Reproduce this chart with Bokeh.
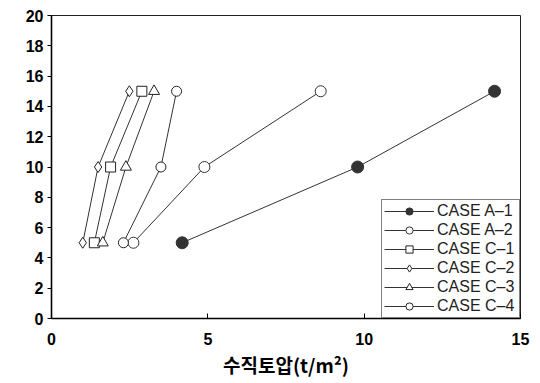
import numpy as np
from bokeh.plotting import figure
from bokeh.models import Range1d, FixedTicker, Legend, LegendItem
from bokeh.embed import file_html
from bokeh.resources import INLINE

# ---- data ----
y_vals = [5, 10, 15]
a1_x = [4.18, 9.79, 14.17]
a2_x = [2.62, 4.89, 8.61]
c1_x = [1.37, 1.89, 2.89]
c2_x = [1.00, 1.49, 2.49]
c3_x = [1.64, 2.38, 3.28]
c4_x = [2.30, 3.50, 4.00]
labels = ["CASE A–1", "CASE A–2", "CASE C–1", "CASE C–2", "CASE C–3", "CASE C–4"]
x_ticks = [0, 5, 10, 15]
y_ticks = [0, 2, 4, 6, 8, 10, 12, 14, 16, 18, 20]

p = figure(width=532, height=380, output_backend="svg", toolbar_location=None,
           x_range=Range1d(0, 15), y_range=Range1d(0, 20),
           min_border_left=51, min_border_right=12, min_border_top=15, min_border_bottom=58)
p.grid.visible = False
p.outline_line_color = "#222222"
p.outline_line_width = 1
p.background_fill_color = "white"
p.border_fill_color = "white"

for ax in (p.xaxis[0], p.yaxis[0]):
    ax.axis_line_width = 1.6
    ax.axis_line_color = "black"
    ax.major_tick_line_color = "black"
    ax.major_tick_line_width = 1
    ax.minor_tick_line_color = None
    ax.major_label_text_font = "Liberation Sans"
    ax.major_label_text_font_style = "bold"
    ax.major_label_text_font_size = "16px"
    ax.major_label_text_color = "black"

p.xaxis.ticker = FixedTicker(ticks=x_ticks)
p.yaxis.ticker = FixedTicker(ticks=y_ticks)
p.xaxis.major_tick_in = 5
p.xaxis.major_tick_out = 0
p.xaxis.major_label_standoff = 14
p.yaxis.major_tick_in = 0
p.yaxis.major_tick_out = 4
p.yaxis.major_label_standoff = 4

p.xaxis.axis_label = "수직토압(t/m²)"
p.xaxis.axis_label_text_font = "Noto Sans CJK KR"
p.xaxis.axis_label_text_font_style = "bold"
p.xaxis.axis_label_text_font_size = "19px"
p.xaxis.axis_label_text_color = "black"
p.xaxis.axis_label_standoff = 3

lc = "#333333"
series = [
    (a1_x, dict(marker="circle", size=12, fill_color="#333333", line_color="#333333")),
    (a2_x, dict(marker="circle", size=11, fill_color="white", line_color="#333333")),
    (c1_x, dict(marker="square", size=10, fill_color="white", line_color="#222222")),
    (c2_x, dict(marker="diamond", size=11, fill_color="white", line_color="#222222")),
    (c3_x, dict(marker="triangle", size=11, fill_color="white", line_color="#222222")),
    (c4_x, dict(marker="circle", size=10, fill_color="white", line_color="#222222")),
]

items = []
for (xs, kw), lab in zip(series, labels):
    ln = p.line(xs, y_vals, line_color=lc, line_width=1)
    sc = p.scatter(xs, y_vals, line_width=1, **kw)
    items.append(LegendItem(label=lab, renderers=[ln, sc]))

legend = Legend(items=items, location="bottom_right", margin=0, padding=2,
                glyph_width=50, glyph_height=18, label_height=18, spacing=1,
                label_standoff=3, label_width=80,
                label_text_font="Liberation Sans", label_text_font_size="16px",
                label_text_color="#222222",
                border_line_color="black", border_line_width=1,
                background_fill_color="white", background_fill_alpha=1)
p.add_layout(legend, "center")

open("out.html", "w").write(file_html(p, INLINE))
